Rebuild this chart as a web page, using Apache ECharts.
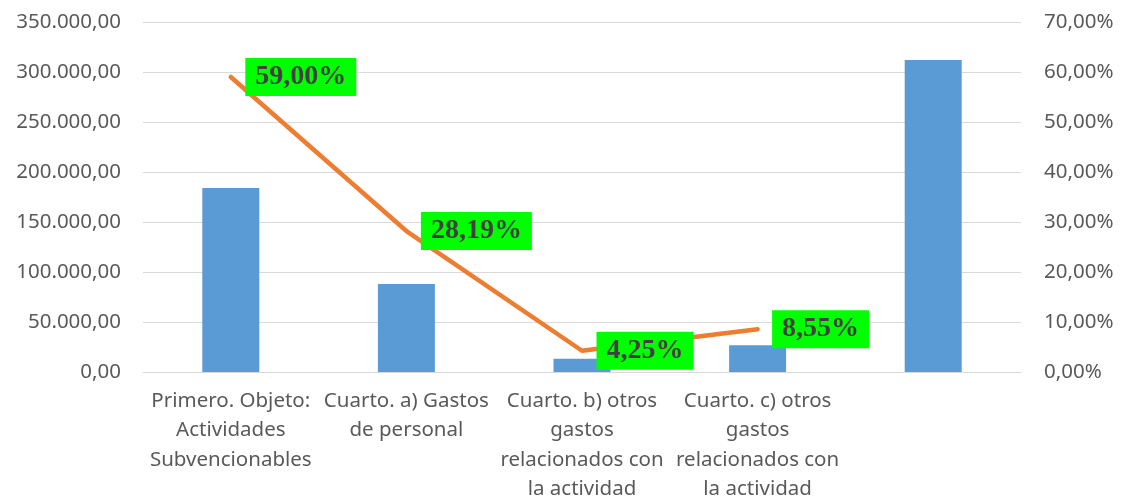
<html>
<head>
<meta charset="utf-8">
<script src="https://cdn.jsdelivr.net/npm/echarts@6/dist/echarts.min.js"></script>
<style>
  body { margin: 0; background: #fff; }
  #main { width: 1121px; height: 499px; }
</style>
</head>
<body>
<div id="main"></div>
<script type="text/javascript">
// datos
var categorias = [
    'Primero. Objeto:\nActividades\nSubvencionables',
    'Cuarto. a) Gastos\nde personal',
    'Cuarto. b) otros\ngastos\nrelacionados con\nla actividad',
    'Cuarto. c) otros\ngastos\nrelacionados con\nla actividad',
    ''
];
var importes = [184080, 87950, 13260, 26680, 311970];
var porcentajes = [59.00, 28.19, 4.25, 8.55, null];

var ejeIzq = { min: 0, max: 350000, interval: 50000 };
var ejeDer = { min: 0, max: 70, interval: 10 };

function numES(v, dec) {
    if (v == null || isNaN(v)) return '';
    var s = Number(v).toFixed(dec).split('.');
    var ent = s[0].replace(/\B(?=(\d{3})+(?!\d))/g, '.');
    return dec > 0 ? ent + ',' + s[1] : ent;
}

var myChart = echarts.init(document.getElementById('main'));

var textoEje = { color: '#595959', fontFamily: 'Noto Sans', fontSize: 20.5 };

myChart.setOption({
    animation: false,
    grid: { left: 143, right: 100, top: 22, bottom: 127, outerBoundsMode: 'none', containLabel: false },
    xAxis: {
        type: 'category',
        data: categorias,
        axisLine: { lineStyle: { color: '#d9d9d9', width: 1 } },
        axisTick: { show: false },
        axisLabel: Object.assign({ interval: 0, lineHeight: 29.5, margin: 14 }, textoEje)
    },
    yAxis: [
        {
            type: 'value',
            min: ejeIzq.min, max: ejeIzq.max, interval: ejeIzq.interval,
            splitLine: { lineStyle: { color: '#d9d9d9', width: 1 } },
            axisLabel: Object.assign({
                margin: 22,
                formatter: function (v) { return numES(v, 2); }
            }, textoEje)
        },
        {
            type: 'value',
            min: ejeDer.min, max: ejeDer.max, interval: ejeDer.interval,
            splitLine: { show: false },
            axisLabel: Object.assign({
                margin: 23,
                formatter: function (v) { return numES(v, 2) + '%'; }
            }, textoEje)
        }
    ],
    series: [
        {
            name: 'Importe',
            type: 'bar',
            yAxisIndex: 0,
            barWidth: 57,
            itemStyle: { color: '#5b9bd5' },
            data: importes
        },
        {
            name: 'Porcentaje',
            type: 'line',
            yAxisIndex: 1,
            symbol: 'circle',
            symbolSize: 1,
            showSymbol: true,
            itemStyle: { color: '#ed7d31' },
            connectNulls: false,
            lineStyle: { color: '#ed7d31', width: 4.5, cap: 'round', join: 'round' },
            data: porcentajes,
            labelLayout: { hideOverlap: false },
            label: {
                show: true,
                position: 'right',
                distance: 14,
                formatter: function (p) { return p.value == null ? '' : numES(p.value, 2) + '%'; },
                backgroundColor: '#00ff00',
                padding: [6, 10, 4, 10],
                lineHeight: 28,
                color: '#404040',
                fontFamily: 'Liberation Serif',
                fontWeight: 'bold',
                fontSize: 28
            }
        }
    ]
});
</script>
</body>
</html>
